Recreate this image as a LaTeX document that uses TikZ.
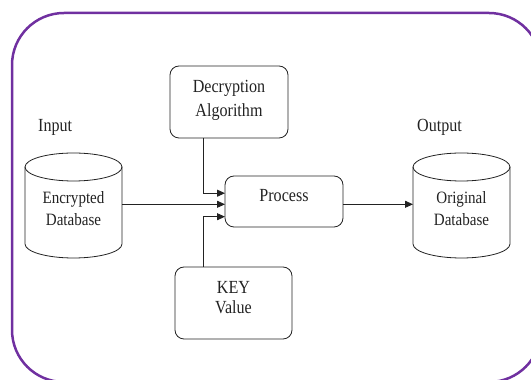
\documentclass[tikz,border=0pt]{standalone}
\usepackage{fontspec}
\setmainfont{Liberation Serif}[FakeStretch=0.87]
\usetikzlibrary{arrows.meta}
\definecolor{framepurple}{HTML}{7030A0}
\definecolor{ink}{HTML}{222222}
\begin{document}
\begin{tikzpicture}[x=1pt,y=1pt,
  box/.style={draw=ink, line width=0.8pt, rounded corners=9pt, align=center,
    inner sep=0pt, outer sep=0pt, text=ink, font=\fontsize{18.5}{24}\selectfont},
  dbnode/.style={inner sep=0pt, outer sep=0pt, minimum width=97pt, minimum height=105pt,
    align=center, text=ink, font=\fontsize{17.3}{22}\selectfont,
    text height=45pt, text depth=4pt},
  dbline/.style={draw=ink, line width=0.8pt},
  lbl/.style={inner sep=0pt, text=ink, font=\fontsize{18.5}{22}\selectfont},
  arr/.style={draw=ink, line width=0.9pt, -{Triangle[length=8pt,width=7pt]}}]
\useasboundingbox (0,0) rectangle (531,380);
\clip (0,0) rectangle (531,380);

% outer frame
\draw[framepurple, line width=2.5pt, rounded corners=52pt] (12,367) rectangle (541,-2);

% boxes
\node[box, minimum width=118pt, minimum height=72pt, text height=33.4pt, text depth=4pt,
  font=\fontsize{18.5}{24}\selectfont] (dec) at (229,278) {Decryption\\Algorithm};
\node[box, minimum width=118pt, minimum height=51pt, text height=12pt, text depth=12.4pt]
  (proc) at (284,178.5) {Process};
\node[box, minimum width=117pt, minimum height=72pt, text height=26pt, text depth=4pt,
  font=\fontsize{18.5}{20}\selectfont] (key) at (233.5,77) {KEY\\Value};

% databases
\node[dbnode] (enc) at (73.5,174.5) {Encrypted\\Database};
\node[dbnode] (orig) at (461.5,174.5) {Original\\Database};
\foreach \db in {enc,orig}{
  \draw[dbline] ([yshift=-14pt]\db.north) ellipse [x radius=48.5pt, y radius=14pt];
  \draw[dbline] ([yshift=-14pt]\db.north west) -- ([yshift=14pt]\db.south west)
    arc[start angle=180, end angle=360, x radius=48.5pt, y radius=14pt]
    -- ([yshift=-14pt]\db.north east);
}

% labels
\node[lbl, anchor=base west] (inp) at (38,248) {Input};
\node[lbl, anchor=base west] (outp) at (417,248) {Output};

% connectors
\draw[arr] ([xshift=33pt]dec.south west) |- ([yshift=8.3pt]proc.west);
\draw[arr] ([yshift=-2.8pt]proc.west -| enc.east) -- ([yshift=-2.8pt]proc.west);
\draw[arr] ([xshift=28pt]key.north west) |- ([yshift=-15.2pt]proc.west);
\draw[arr] ([yshift=-2.8pt]proc.east) -- ([yshift=-2.8pt]proc.east -| orig.west);
\end{tikzpicture}
\end{document}
